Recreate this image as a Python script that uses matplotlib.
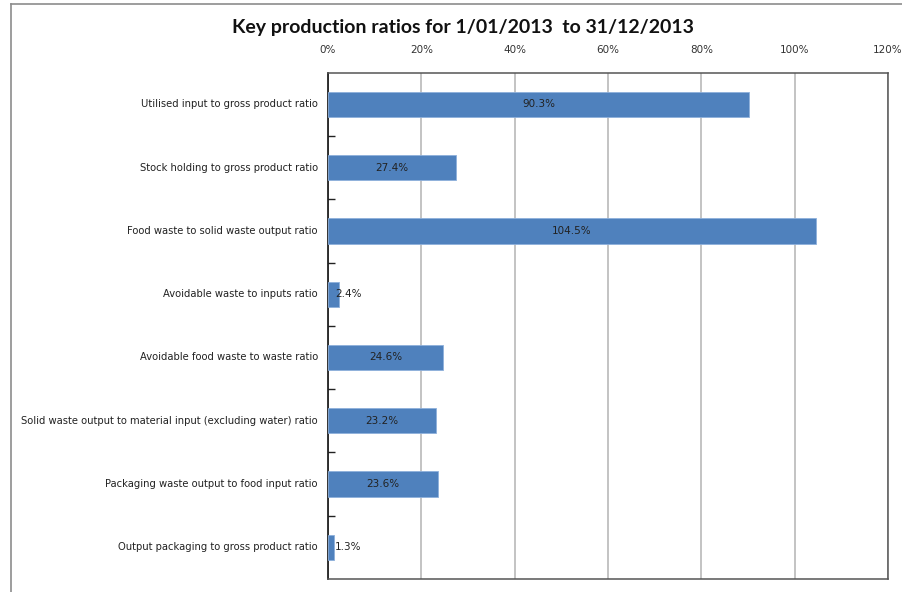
import matplotlib
matplotlib.use('Agg')
from matplotlib import pyplot as plt
from matplotlib.lines import Line2D
from matplotlib.ticker import PercentFormatter

categories = [
    'Utilised input to gross product ratio',
    'Stock holding to gross product ratio',
    'Food waste to solid waste output ratio',
    'Avoidable waste to inputs ratio',
    'Avoidable food waste to waste ratio',
    'Solid waste output to material input (excluding water) ratio',
    'Packaging waste output to food input ratio',
    'Output packaging to gross product ratio',
]
values = [90.3, 27.4, 104.5, 2.4, 24.6, 23.2, 23.6, 1.3]
x_ticks = [0, 20, 40, 60, 80, 100, 120]

W, H = 903, 592
fig = plt.figure(figsize=(W / 100, H / 100), dpi=100)
ax = fig.add_axes([328 / W, 1 - 579 / H, (888 - 328) / W, (579 - 72.7) / H])

# рамка вокруг всей диаграммы (видны только левый и верхний края)
fig.add_artist(Line2D([11 / W, 11 / W], [0, 1 - 4 / H], color='#8c8c8c', lw=1.2))
fig.add_artist(Line2D([11 / W, 1], [1 - 4 / H, 1 - 4 / H], color='#8c8c8c', lw=1.2))

n = len(categories)
ypos = list(range(n))
bars = ax.barh(ypos, values, height=0.4, color='#4f81bd', edgecolor='#8eb0db', linewidth=0.6, zorder=3)

ax.set_xlim(0, 120)
ax.set_ylim(n - 0.5, -0.5)
ax.set_xticks(x_ticks)
ax.xaxis.set_major_formatter(PercentFormatter(decimals=0))
ax.xaxis.tick_top()
ax.tick_params(axis='x', length=0, pad=13, labelsize=7.5, labelcolor='#333333')
ax.grid(axis='x', color='#b3b3b3', lw=1.1, zorder=0)

# деления оси категорий между столбцами, подписи отдельно
ax.set_yticks([i + 0.5 for i in range(n - 1)])
ax.set_yticklabels([])
ax.tick_params(axis='y', direction='in', length=5, width=1, color='#222222')
for i, name in enumerate(categories):
    ax.text(-10 / 560 * 120, i, name, ha='right', va='center', fontsize=7.2,
            color='#222222', family='DejaVu Sans')

for s in ['top', 'right', 'bottom']:
    ax.spines[s].set_color('#555555')
    ax.spines[s].set_linewidth(1.1)
ax.spines['left'].set_color('#111111')
ax.spines['left'].set_linewidth(1.2)

for b, v in zip(bars, values):
    y = b.get_y() + b.get_height() / 2
    if v < 5:
        ax.annotate(f'{v:.1f}%', (0, y), xytext=(5, 0), textcoords='offset points',
                    ha='left', va='center', fontsize=7.5, color='#222222', zorder=4)
    else:
        ax.text(v / 2, y, f'{v:.1f}%', ha='center', va='center', fontsize=7.5,
                color='#222222', zorder=4)

fig.text(463 / W, 1 - 28 / H, 'Key production ratios for 1/01/2013  to 31/12/2013',
         ha='center', va='center', fontsize=14, fontweight='bold', family='Lato', color='#111111')

fig.savefig('out.png', dpi=100)
